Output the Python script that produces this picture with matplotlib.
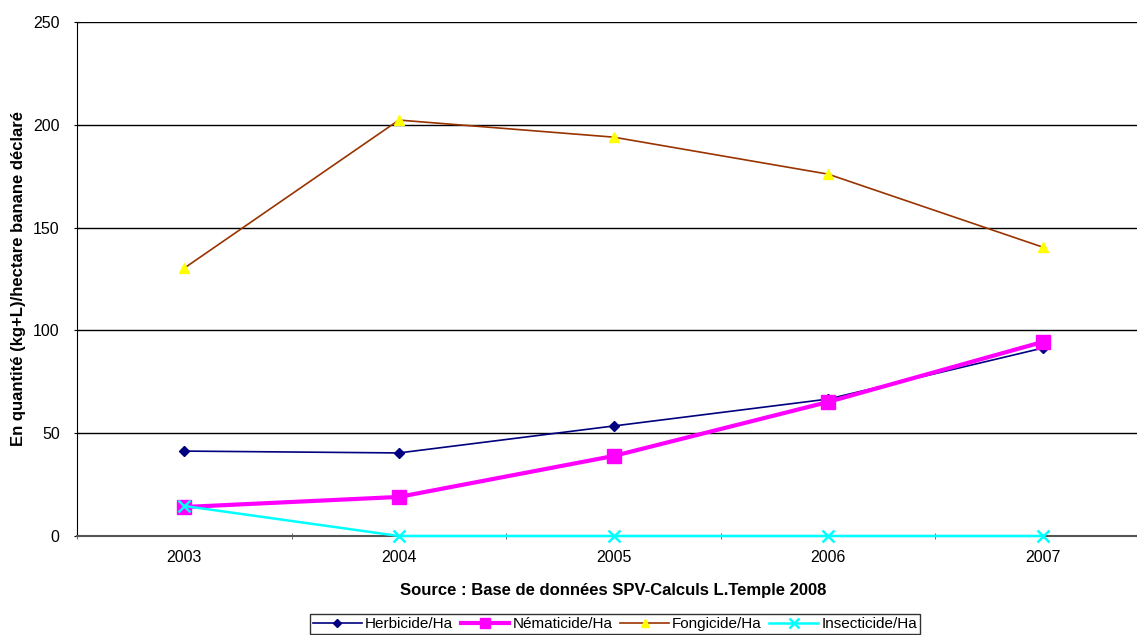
import matplotlib
matplotlib.use("Agg")
import matplotlib.pyplot as plt

plt.rcParams['font.family'] = ['Liberation Sans', 'DejaVu Sans']

years = ["2003", "2004", "2005", "2006", "2007"]
herbicide = [41.3, 40.4, 53.5, 66.6, 91.4]
nematicide = [14.1, 19.0, 38.9, 65.2, 94.4]
fongicide = [130.3, 202.3, 194.0, 176.0, 140.5]
insecticide = [14.6, 0, 0, 0, 0]

fig = plt.figure(figsize=(11.37, 6.35), dpi=100)
# plot area runs past the right edge of the image, as in the original
ax = fig.add_axes([77 / 1137, 1 - 536 / 635, 1073 / 1137, 514 / 635])

x = range(len(years))
ax.plot(x, herbicide, color="#000080", lw=1.2, marker="D", ms=5, label="Herbicide/Ha")
ax.plot(x, nematicide, color="#FF00FF", lw=3, marker="s", ms=10, label="Nématicide/Ha")
ax.plot(x, fongicide, color="#993300", lw=1.2, marker="^", ms=7,
        mfc="#FFFF00", mec="#FFFF00", label="Fongicide/Ha")
ax.plot(x, insecticide, color="#00FFFF", lw=1.8, marker="x", ms=9, mew=1.8,
        label="Insecticide/Ha", clip_on=False, zorder=5)

ax.set_xlim(-0.5, 4.5)
ax.set_ylim(0, 250)
ax.set_yticks([0, 50, 100, 150, 200, 250])
ax.set_xticks(list(x))
ax.set_xticklabels(years)
ax.set_xticks([i + 0.5 for i in range(-1, 5)], minor=True)
ax.tick_params(axis="x", which="major", length=0, labelsize=11.5, pad=10)
ax.tick_params(axis="x", which="minor", length=5, direction="inout", color="#555555")
ax.tick_params(axis="y", labelsize=11.5, length=5, direction="inout", pad=10)

ax.yaxis.grid(True, color="black", lw=1)
ax.set_axisbelow(True)
for s in ["top", "right"]:
    ax.spines[s].set_visible(False)
ax.spines["left"].set_color("black")
ax.spines["bottom"].set_color("#555555")
ax.spines["bottom"].set_linewidth(1.5)

ax.set_ylabel("En quantité (kg+L)/hectare banane déclaré", fontsize=12,
              fontweight="bold")
ax.yaxis.set_label_coords(-51 / 1073, 0.5)
ax.set_xlabel("Source : Base de données SPV-Calculs L.Temple 2008", fontsize=12,
              fontweight="bold")
ax.xaxis.set_label_coords(536 / 1073, -47 / 514)

leg = fig.legend(loc="upper center", bbox_to_anchor=(615 / 1137, 1 - 614 / 635), ncol=4,
                 fontsize=11, frameon=True, fancybox=False, edgecolor="black",
                 borderpad=0.2, handlelength=3.2, handletextpad=0.2, columnspacing=0.5,
                 borderaxespad=0, markerscale=0.75)
leg.get_frame().set_linewidth(1.0)

fig.savefig("out.png", dpi=100)
